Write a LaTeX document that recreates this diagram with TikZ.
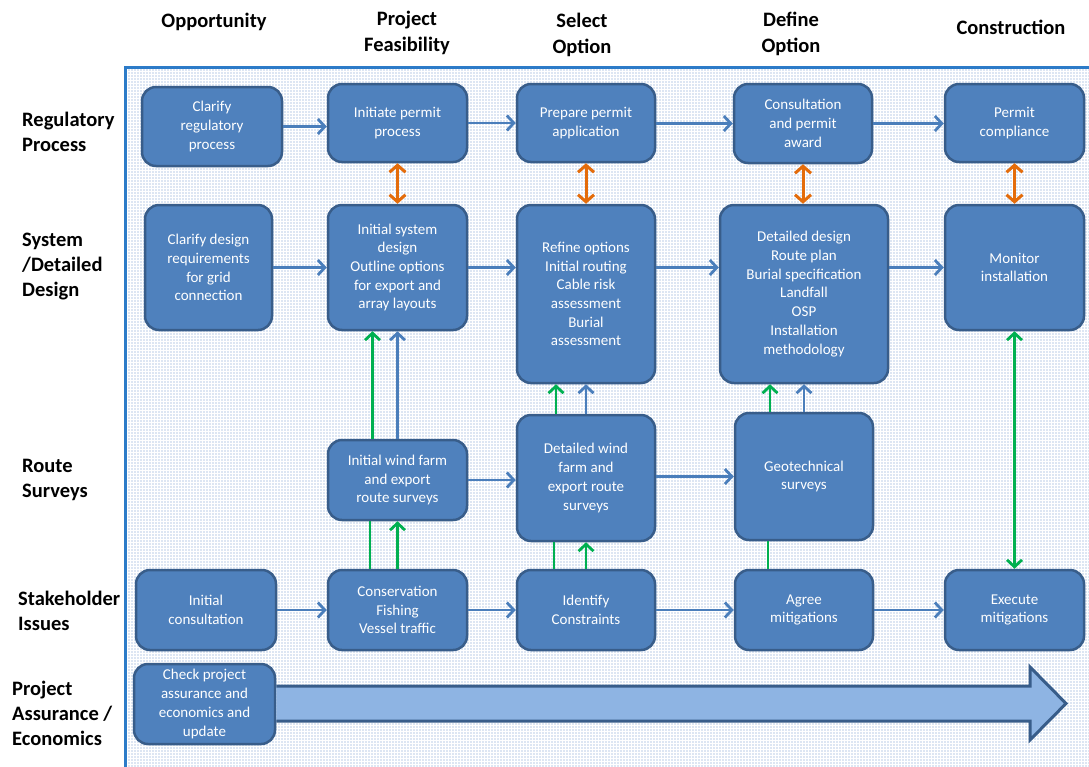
\documentclass[tikz,border=0pt]{standalone}
\usepackage{fontspec}
\setmainfont{Carlito}
\usetikzlibrary{arrows.meta,patterns.meta}
\definecolor{boxfill}{HTML}{4F81BD}
\definecolor{boxline}{HTML}{385D8A}
\definecolor{arrblue}{HTML}{4A7EBB}
\definecolor{arrgreen}{HTML}{00B050}
\definecolor{arrorange}{HTML}{E46C0A}
\definecolor{panelline}{HTML}{2C7BC8}
\definecolor{dotcol}{HTML}{6F95CC}
\definecolor{bigarrow}{HTML}{8EB4E3}
\begin{document}
\begin{tikzpicture}[x=1pt,y=-1pt,
  box/.style 2 args={draw=boxline, line width=2.5pt, fill=boxfill, rounded corners=14pt,
    text=white, align=center, inner sep=0pt, minimum width=#1pt, minimum height=#2pt,
    font=\fontsize{15}{18.7}\selectfont},
  header/.style={align=center, font=\fontsize{20.5}{25.5}\selectfont\bfseries},
  rowlabel/.style={anchor=west, align=left, inner sep=0pt, font=\fontsize{20.5}{25}\selectfont\bfseries},
  barrow/.style={draw=arrblue, line width=2.8pt, -{Straight Barb[length=7pt,width=15pt]}},
  garrow/.style={draw=arrgreen, line width=2.8pt, -{Straight Barb[length=7pt,width=15pt]}},
  gline/.style={draw=arrgreen, line width=2.8pt},
  gdouble/.style={draw=arrgreen, line width=2.8pt, {Straight Barb[length=7pt,width=15pt]}-{Straight Barb[length=7pt,width=15pt]}},
  odouble/.style={draw=arrorange, line width=3pt, {Straight Barb[length=7pt,width=16pt]}-{Straight Barb[length=7pt,width=16pt]}}
]
\useasboundingbox (0,0) rectangle (1089,766);
\clip (0,0) rectangle (1089,766);
\fill[white] (0,0) rectangle (1089,766);
% panel
\fill[pattern={Dots[radius=0.55pt,distance=3pt]}, pattern color=dotcol] (125,67) rectangle (1100,780);
\draw[panelline, line width=3pt] (125,780) -- (125,67) -- (1100,67);

% headers
\node[header] (h1) at (214,22) {Opportunity};
\node[header] (h2) at (407,33) {Project\\Feasibility};
\node[header] (h3) at (582,35) {Select\\Option};
\node[header] (h4) at (791,34) {Define\\Option};
\node[header] (h5) at (1011,27) {Construction};

% row labels
\node[rowlabel] (l1) at (22,132) {Regulatory\\Process};
\node[rowlabel] (l2) at (22,267) {System\\/Detailed\\Design};
\node[rowlabel] (l3) at (22,480) {Route\\Surveys};
\node[rowlabel] (l4) at (18,611) {Stakeholder\\Issues};
\node[rowlabel] (l5) at (12,713) {Project\\Assurance /\\Economics};

% row 1
\node[box={140}{79}] (r1a) at (212,126.5) {Clarify\\regulatory\\process};
\node[box={139}{78}] (r1b) at (397.5,123) {Initiate permit\\process};
\node[box={138}{78}] (r1c) at (586,123) {Prepare permit\\application};
\node[box={138}{79}] (r1d) at (803,123.5) {Consultation\\and permit\\award};
\node[box={139}{78}] (r1e) at (1014.5,123) {Permit\\compliance};
% row 2
\node[box={127}{125}] (r2a) at (208.5,267.5) {Clarify design\\requirements\\for grid\\connection};
\node[box={139}{125}] (r2b) at (397.5,267.5) {Initial system\\design\\Outline options\\for export and\\array layouts};
\node[box={138}{178}] (r2c) at (586,294) {Refine options\\Initial routing\\Cable risk\\assessment\\Burial\\assessment};
\node[box={168}{178}] (r2d) at (804,294) {Detailed design\\Route plan\\Burial specification\\Landfall\\OSP\\Installation\\methodology};
\node[box={139}{125}] (r2e) at (1014.5,267.5) {Monitor\\installation};
% row 3
\node[box={139}{80}] (r3b) at (397.5,480) {Initial wind farm\\and export\\route surveys};
\node[box={138}{126}] (r3c) at (586,478) {Detailed wind\\farm and\\export route\\surveys};
\node[box={138}{127}] (r3d) at (804,476.5) {Geotechnical\\surveys};
% row 4
\node[box={140}{80}] (r4a) at (206,610) {Initial\\consultation};
\node[box={139}{80}] (r4b) at (397.5,610) {Conservation\\Fishing\\Vessel traffic};
\node[box={138}{80}] (r4c) at (586,610) {Identify\\Constraints};
\node[box={138}{80}] (r4d) at (804,610) {Agree\\mitigations};
\node[box={139}{80}] (r4e) at (1014.5,610) {Execute\\mitigations};
% row 5
\node[box={141}{80}] (r5a) at (204.5,704) {Check project\\assurance and\\economics and\\update};

% big arrow
\draw[boxline, line width=3pt, fill=bigarrow, line join=miter]
  (r5a.east |- 0,686) -- (1030,686) -- (1030,667) -- (1066,703.5) -- (1030,740) -- (1030,721) -- (r5a.east |- 0,721);

% horizontal arrows row 1
\draw[barrow] (r1a.east) -- (r1a.east -| r1b.west);
\draw[barrow] (r1b.east) -- (r1b.east -| r1c.west);
\draw[barrow] (r1c.east |- r1d) -- (r1d.west);
\draw[barrow] (r1d.east) -- (r1d.east -| r1e.west);
% row 2
\draw[barrow] (r2a.east) -- (r2a.east -| r2b.west);
\draw[barrow] (r2b.east) -- (r2b.east -| r2c.west);
\draw[barrow] (r2c.east |- r2a.east) -- (r2d.west |- r2a.east);
\draw[barrow] (r2d.east |- r2e.west) -- (r2e.west);
% row 3
\draw[barrow] (r3b.east) -- (r3b.east -| r3c.west);
\draw[barrow] (r3c.east |- r3d.west) -- (r3d.west);
% row 4
\draw[barrow] (r4a) -- (r4b);
\draw[barrow] (r4b) -- (r4c);
\draw[barrow] (r4c) -- (r4d);
\draw[barrow] (r4d) -- (r4e);

% orange double arrows
\draw[odouble] (r1b.south) -- (r2b.north);
\draw[odouble] (r1c.south) -- (r2c.north);
\draw[odouble] (r1d.south) -- (r1d.south |- r2d.north);
\draw[odouble] (r1e.south) -- (r2e.north);

% column 2 verticals
\draw[garrow] ([xshift=-25pt]r3b.north) -- ([xshift=-25pt]r2b.south);
\draw[barrow] (r3b.north) -- (r2b.south);
\draw[gline] ([xshift=-27.5pt]r4b.north) -- ([xshift=-27.5pt]r3b.south);
\draw[garrow] (r4b.north) -- (r3b.south);
% column 3
\draw[garrow] ([xshift=-30pt]r3c.north) -- ([xshift=-30pt]r2c.south);
\draw[barrow] (r3c.north) -- (r2c.south);
\draw[gline] ([xshift=-32pt]r4c.north) -- ([xshift=-32pt]r3c.south);
\draw[garrow] (r4c.north) -- (r3c.south);
% column 4
\draw[garrow] ([xshift=-34pt]r3d.north) -- ([xshift=-34pt]r2d.south);
\draw[barrow] (r3d.north) -- (r2d.south);
\draw[gline] ([xshift=-36pt]r4d.north) -- ([xshift=-36pt]r3d.south);
% column 5
\draw[gdouble] (r2e.south) -- (r4e.north);
\end{tikzpicture}
\end{document}
